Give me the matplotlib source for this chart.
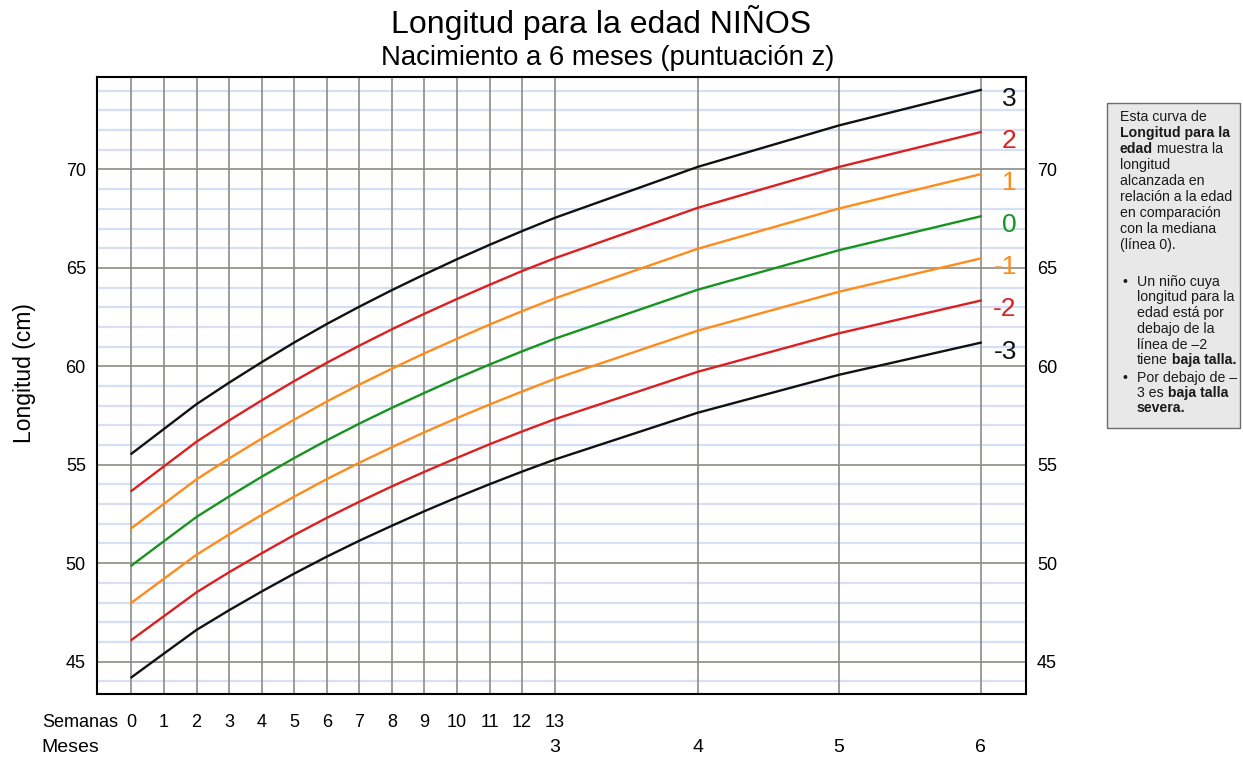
import numpy as np
import matplotlib
matplotlib.use('Agg')
import matplotlib.pyplot as plt
from matplotlib.patches import Rectangle

plt.rcParams['font.family'] = ['Liberation Sans', 'DejaVu Sans']

# WHO length-for-age, boys, birth to 6 months (cm)
# points: weeks 0..13, then months 4, 5, 6
weeks = list(range(14))
months = [4, 5, 6]
week_labels = [str(w) for w in weeks]
month_labels = ['3', '4', '5', '6']

curves = {
    '-3': [44.20, 45.41, 46.61, 47.61, 48.56, 49.47, 50.33, 51.14, 51.90, 52.64, 53.34, 54.01, 54.65, 55.26, 57.64, 59.57, 61.20],
    '-2': [46.10, 47.31, 48.52, 49.54, 50.50, 51.43, 52.30, 53.12, 53.90, 54.64, 55.35, 56.04, 56.69, 57.31, 59.72, 61.68, 63.34],
    '-1': [47.99, 49.21, 50.43, 51.46, 52.45, 53.38, 54.27, 55.10, 55.89, 56.65, 57.37, 58.06, 58.72, 59.36, 61.81, 63.79, 65.48],
    '0':  [49.88, 51.12, 52.35, 53.39, 54.39, 55.34, 56.24, 57.09, 57.89, 58.65, 59.39, 60.09, 60.76, 61.40, 63.89, 65.90, 67.62],
    '1':  [51.78, 53.02, 54.26, 55.32, 56.33, 57.29, 58.21, 59.07, 59.88, 60.66, 61.40, 62.12, 62.80, 63.45, 65.97, 68.02, 69.76],
    '2':  [53.67, 54.92, 56.17, 57.25, 58.27, 59.25, 60.18, 61.05, 61.88, 62.67, 63.42, 64.14, 64.84, 65.49, 68.05, 70.13, 71.90],
    '3':  [55.56, 56.82, 58.08, 59.17, 60.21, 61.21, 62.15, 63.03, 63.87, 64.67, 65.44, 66.17, 66.87, 67.54, 70.13, 72.24, 74.04],
}
colors = {'-3': '#111111', '-2': '#dc1f1f', '-1': '#ff8c1a', '0': '#17931f',
          '1': '#ff8c1a', '2': '#dc1f1f', '3': '#111111'}

# age axis in months (1 month = 30.4375 days)
wk_x = [w * 7 / 30.4375 for w in weeks]
age = np.array(wk_x + months, dtype=float)

fig = plt.figure(figsize=(12.43, 7.59), dpi=100)
ax = fig.add_axes([0.078, 0.0856, 0.7474, 0.813])

# grid
for v in range(44, 75):
    if v % 5 == 0:
        ax.axhline(v, color='#8c8c86', lw=1.2, zorder=1)
    else:
        ax.axhline(v, color='#d6dff5', lw=1.6, zorder=0)
for xv in wk_x + months:
    ax.axvline(xv, color='#8c8c86', lw=1.2, zorder=1)

for z in ['-3', '-2', '-1', '0', '1', '2', '3']:
    ax.plot(age, curves[z], color=colors[z], lw=1.7, zorder=3)
    ax.text(6.255, curves[z][-1] - 0.45, z, color=colors[z], fontsize=19,
            ha='right', va='center', zorder=4)

ax.set_xlim(-0.244, 6.32)
ax.set_ylim(43.35, 74.7)
ax.set_xticks([])
ax.set_yticks([45, 50, 55, 60, 65, 70])
ax.tick_params(axis='y', length=0, labelsize=13, pad=8, labelright=True)
for sp in ax.spines.values():
    sp.set_linewidth(1.5)
    sp.set_color('black')

W, H = 1243.0, 759.0
fig.text(25 / W, 1 - 373 / H, 'Longitud (cm)', rotation=90, ha='center', va='center', fontsize=16.5)

# x labels: weeks row and months row
trans = ax.get_xaxis_transform()
for xv, lab in zip(wk_x, week_labels):
    ax.text(xv, -0.0454, lab, transform=trans, ha='center', va='center', fontsize=13)
ax.text(-0.092, -0.0454, 'Semanas', transform=trans, ha='right', va='center', fontsize=13)
for xv, lab in zip([wk_x[-1]] + months, month_labels):
    ax.text(xv, -0.086, lab, transform=trans, ha='center', va='center', fontsize=14)
fig.text(41.7 / W, 1 - 747 / H, 'Meses', ha='left', va='center', fontsize=14)

fig.text(0.4835, 0.970, 'Longitud para la edad NIÑOS', ha='center', va='center', fontsize=23)
fig.text(0.489, 0.923, 'Nacimiento a 6 meses (puntuación z)', ha='center', va='center', fontsize=19.8)

# note box
fig.patches.append(Rectangle((1107 / W, 1 - 428 / H), 133 / W, 325 / H, transform=fig.transFigure,
                             facecolor='#e8e8e8', edgecolor='#6e6e6e', lw=1.0, zorder=0))

note_lines = [
    (1120, 117, [('Esta curva de', 'normal')]),
    (1120, 133, [('Longitud para la', 'bold')]),
    (1120, 149, [('edad', 'bold'), (' muestra la', 'normal')]),
    (1120, 165, [('longitud', 'normal')]),
    (1120, 181, [('alcanzada en', 'normal')]),
    (1120, 197, [('relación a la edad', 'normal')]),
    (1120, 213, [('en comparación', 'normal')]),
    (1120, 229, [('con la mediana', 'normal')]),
    (1120, 245, [('(línea 0).', 'normal')]),
    (1137, 282, [('Un niño cuya', 'normal')]),
    (1137, 297, [('longitud para la', 'normal')]),
    (1137, 313, [('edad está por', 'normal')]),
    (1137, 329, [('debajo de la', 'normal')]),
    (1137, 345, [('línea de –2', 'normal')]),
    (1137, 360, [('tiene', 'normal'), ('\u00a0baja talla.', 'bold')]),
    (1137, 378, [('Por debajo de –', 'normal')]),
    (1137, 393, [('3 es', 'normal'), ('\u00a0baja talla', 'bold')]),
    (1137, 408, [('severa.', 'bold')]),
]
fs = 10.2
renderer = fig.canvas.get_renderer()
for px, py, segs in note_lines:
    x0 = px
    for s, wgt in segs:
        t = fig.text(x0 / W, 1 - (py + 4) / H, s, fontsize=fs, fontweight=wgt,
                     ha='left', va='baseline', color='#1a1a1a')
        x0 += t.get_window_extent(renderer).width
for py in [282, 378]:
    fig.text(1125 / W, 1 - (py + 4) / H, '•', fontsize=fs, ha='center', va='baseline', color='#1a1a1a')

plt.savefig('out.png', dpi=100)
